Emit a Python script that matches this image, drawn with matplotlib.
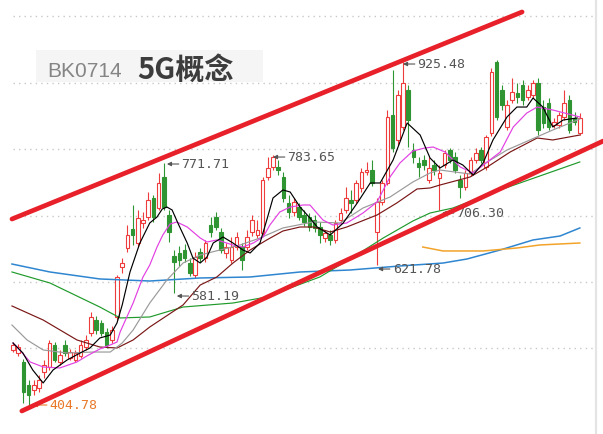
import matplotlib
matplotlib.use("Agg")
import matplotlib.pyplot as plt
from matplotlib.patches import Rectangle

# daily candles (index 0..109)
opens = [488.3, 483.7, 470.1, 435.1, 427.6, 430.6, 454.9, 462.5, 495.9, 470.1,
         495.9, 476.1, 473.1, 479.2, 492.8, 514.1, 533.8, 529.3, 515.6, 503.5,
         538.4, 614.3, 643.1, 672.0, 650.7, 681.1, 690.2, 719.0, 703.8, 750.9,
         693.2, 631.0, 635.5, 640.1, 620.3, 602.1, 637.0, 627.9, 678.0, 690.2,
         667.4, 635.5, 624.9, 644.6, 644.6, 644.6, 667.4, 662.8, 665.9, 750.9,
         766.1, 766.1, 750.9, 711.4, 697.8, 705.3, 693.2, 690.2, 685.6, 675.0,
         658.3, 662.8, 655.3, 685.6, 700.8, 716.0, 716.0, 734.2, 758.5, 761.5,
         667.4, 712.9, 741.8, 845.0, 807.1, 826.8, 883.0, 791.9, 772.1, 776.7,
         746.3, 769.1, 749.4, 769.1, 791.9, 781.2, 746.3, 735.7, 757.0, 776.7,
         791.9, 766.1, 817.7, 925.5, 883.0, 826.8, 867.8, 878.4, 890.5, 872.3,
         875.4, 893.6, 857.1, 863.2, 829.8, 829.8, 842.0, 867.8, 840.5, 817.7]
highs = [500.4, 497.4, 474.6, 442.7, 442.7, 450.3, 473.1, 503.5, 500.4, 488.3,
         503.5, 489.8, 488.3, 503.5, 511.0, 546.0, 539.9, 533.8, 521.7, 524.7,
         602.1, 627.9, 678.0, 708.4, 700.8, 697.8, 728.1, 723.6, 757.0, 771.7,
         700.8, 640.1, 646.1, 649.2, 627.9, 637.0, 643.1, 655.3, 690.2, 697.8,
         673.5, 650.7, 659.8, 667.4, 650.7, 670.4, 693.2, 685.6, 750.9, 781.2,
         783.7, 776.7, 758.5, 723.6, 719.0, 711.4, 700.8, 696.2, 693.2, 682.6,
         670.4, 670.4, 685.6, 703.8, 735.7, 731.2, 746.3, 764.5, 773.7, 776.7,
         719.0, 746.3, 852.6, 913.3, 883.0, 925.5, 890.5, 802.5, 781.2, 784.3,
         781.2, 776.7, 769.1, 791.9, 794.9, 788.8, 753.9, 761.5, 781.2, 794.9,
         796.4, 814.6, 916.3, 928.0, 890.5, 867.8, 901.2, 893.6, 898.1, 890.5,
         898.1, 901.2, 867.8, 870.8, 840.5, 849.6, 883.0, 875.4, 849.6, 848.0]
lows = [485.2, 479.2, 407.8, 404.8, 420.0, 424.5, 445.8, 457.9, 470.1, 465.5,
        479.2, 473.1, 470.1, 476.1, 488.3, 509.5, 512.6, 509.5, 491.3, 498.9,
        533.8, 605.2, 637.0, 647.7, 646.1, 673.5, 685.6, 682.6, 700.8, 700.8,
        652.2, 574.8, 615.8, 621.9, 600.6, 597.6, 621.9, 621.9, 659.8, 670.4,
        635.5, 627.9, 620.3, 640.1, 609.7, 640.1, 661.3, 658.3, 661.3, 746.3,
        761.5, 753.9, 712.9, 688.7, 691.7, 685.6, 676.5, 668.9, 667.4, 650.7,
        652.2, 647.7, 650.7, 681.1, 696.2, 696.2, 711.4, 728.1, 753.9, 737.2,
        617.3, 708.4, 738.7, 788.8, 799.5, 822.2, 796.4, 772.1, 750.9, 761.5,
        741.8, 753.9, 700.8, 764.5, 772.1, 757.0, 719.0, 731.2, 752.4, 772.1,
        772.1, 761.5, 813.1, 837.4, 852.6, 822.2, 863.2, 863.2, 860.2, 867.8,
        870.8, 814.6, 825.3, 822.2, 825.3, 825.3, 837.4, 817.7, 829.8, 814.6]
closes = [495.9, 492.8, 424.5, 420.0, 435.1, 442.7, 465.5, 498.9, 473.1, 480.7,
          483.7, 485.2, 483.7, 495.9, 503.5, 538.4, 518.6, 514.1, 495.9, 518.6,
          599.1, 620.3, 662.8, 662.8, 688.7, 685.6, 716.0, 690.2, 741.8, 705.3,
          667.4, 621.9, 624.9, 627.9, 605.2, 629.4, 627.9, 650.7, 667.4, 675.0,
          640.1, 644.6, 644.6, 659.8, 624.9, 659.8, 685.6, 670.4, 746.3, 764.5,
          781.2, 761.5, 719.0, 697.8, 712.9, 690.2, 682.6, 675.0, 673.5, 662.8,
          665.9, 655.3, 681.1, 696.2, 719.0, 711.4, 741.8, 758.5, 761.5, 741.8,
          712.9, 741.8, 842.0, 794.9, 875.4, 893.6, 837.4, 781.2, 766.1, 769.1,
          764.5, 761.5, 757.0, 787.3, 776.7, 761.5, 735.7, 757.0, 776.7, 787.3,
          776.7, 811.6, 910.3, 842.0, 860.2, 860.2, 879.9, 872.3, 867.8, 883.0,
          893.6, 822.2, 832.9, 826.8, 834.4, 845.0, 863.2, 822.2, 834.4, 840.5]

# moving averages: (candle index, value)
ma5_x = [0, 1.9, 3.8, 5.8, 7.7, 10.4, 12.9, 14.8, 16.7, 18.7, 20, 21, 22.5, 24.4,
         26.3, 27.7, 28.7, 29.6, 30.6, 31.7, 33.5, 34.6, 36, 37.3, 38.5, 40.4,
         42.3, 44.2, 45.6, 47.5, 48.8, 50, 51.9, 53.3, 55.2, 57.1, 58.5, 61,
         63.5, 66.2, 68.7, 70.6, 73.1, 75.8, 78.3, 80.2, 82.1, 84.6, 86.5, 88.5,
         90.4, 92.3, 95, 96.9, 98.8, 100, 101.9, 103.8, 105.8, 108.5]
ma5_y = [498.9, 483.7, 457.9, 438.2, 457.9, 473.1, 483.7, 491.3, 506.5, 511.0,
         529.3, 556.6, 606.7, 650.7, 681.1, 690.2, 702.3, 705.3, 700.8, 681.1,
         650.7, 627.9, 620.3, 629.4, 650.7, 659.8, 650.7, 640.1, 635.5, 650.7,
         685.6, 719.0, 731.2, 728.1, 705.3, 688.7, 675.0, 662.8, 681.1, 711.4,
         741.8, 741.8, 776.7, 832.9, 814.6, 779.7, 764.5, 776.7, 769.1, 753.9,
         772.1, 807.1, 842.0, 857.1, 857.1, 870.8, 857.1, 826.8, 837.4, 840.5]
ma10_x = [0, 0.8, 3.3, 5.8, 9, 12.3, 14.2, 16.7, 18.7, 20, 20.6, 23.1, 25, 26.3,
          27.7, 28.8, 30.2, 31.5, 33.5, 36, 37.3, 39.2, 42.3, 44.2, 46.2, 48.1,
          49.4, 51.3, 53.3, 55.8, 57.1, 59.6, 61.5, 64.2, 67.3, 70, 72.5, 74.4,
          76.9, 79.2, 80.8, 83.1, 86, 88.5, 91.2, 93.7, 96.2, 98.8, 100.8, 103.8, 109]
ma10_y = [498.9, 492.8, 470.1, 462.5, 461.0, 470.1, 479.2, 489.8, 495.9, 500.4,
          515.6, 559.6, 599.1, 617.3, 644.6, 662.8, 679.5, 682.6, 675.0, 658.3,
          652.2, 655.3, 647.7, 644.6, 650.7, 659.8, 678.0, 697.8, 705.3, 708.4,
          708.4, 685.6, 678.0, 681.1, 696.2, 712.9, 750.9, 772.1, 790.4, 794.9,
          796.4, 788.8, 766.1, 757.0, 773.7, 788.8, 826.8, 848.0, 857.1, 852.6, 842.0]
ma20_x = [-0.2, 2.7, 5.8, 10.4, 15.4, 18.7, 21, 23.1, 26.3, 29.6, 32.7, 36, 39.8,
          43.7, 47.5, 51.9, 57.7, 62.9, 67.3, 72.5, 76.9, 80.2, 82.1, 87.9, 91.2,
          95, 99.4, 103.8, 109]
ma20_y = [526.2, 503.5, 488.3, 483.7, 485.2, 485.2, 498.9, 518.6, 559.6, 594.5,
          620.3, 632.5, 640.1, 647.7, 658.3, 673.5, 682.6, 681.1, 703.8, 720.5,
          743.3, 757.0, 761.5, 755.4, 773.7, 791.9, 807.1, 822.2, 838.9]
ma30_x = [-0.2, 5.8, 12.3, 16.7, 20, 23.1, 26.3, 32.7, 36, 39.2, 42.3, 45.6, 48.8,
          51.9, 55.2, 57.7, 61, 64.2, 70, 73.8, 77.7, 80.2, 82.1, 87.9, 91.2,
          95.6, 100.8, 103.8, 109]
ma30_y = [555.1, 533.8, 503.5, 492.8, 491.3, 503.5, 523.2, 556.6, 586.9, 599.1,
          620.3, 640.1, 655.3, 668.9, 675.0, 675.0, 667.4, 675.0, 693.2, 711.4,
          732.7, 734.2, 738.7, 750.9, 766.1, 788.8, 810.1, 807.1, 814.6]
ma60_x = [-0.2, 7.1, 16.7, 20.6, 26.3, 32.7, 42.3, 48.8, 53.3, 59, 64.8, 71.2,
          76.9, 80.2, 84.6, 94.2, 109]
ma60_y = [606.7, 590.0, 553.5, 536.9, 538.4, 553.5, 559.6, 568.7, 582.4, 599.1,
          626.4, 658.3, 684.1, 696.2, 703.8, 732.7, 773.7]
ma120_x = [-0.2, 7.1, 16.7, 26.3, 36, 45.6, 55.2, 64.8, 74.4, 82.7, 87.3, 93.7,
           100, 105.2, 109]
ma120_y = [618.8, 606.7, 596.1, 593.0, 597.6, 599.1, 606.7, 609.7, 615.8, 620.3,
           626.4, 640.1, 655.3, 661.3, 673.5]
ma250_x = [78.8, 82.7, 90.4, 96.9, 101.3, 109]
ma250_y = [644.6, 638.6, 638.6, 643.1, 647.7, 650.7]

# trend channel (index, price at both ends)
upper_x = [-0.2, 97.9]
upper_y = [687.1, 1001.4]
lower_x = [1.7, 113.5]
lower_y = [395.7, 805.5]

# marked highs / lows: label, arrow tip index, price
marks = [("771.71", 29.6, 770.6), ("783.65", 50.0, 781.2), ("925.48", 75.0, 922.4),
         ("621.78", 70.2, 611.2), ("581.19", 31.5, 570.2), ("706.30", 82.5, 696.2)]
low_mark = ("404.78", 3.85, 404.78)

grid_levels = [995.3, 893.6, 793.4, 691.7, 591.5, 491.3]

RED = "#ee3b3b"
GREEN = "#2f9432"

fig = plt.figure(figsize=(6.03, 4.34), dpi=100)
ax = fig.add_axes([0, 0, 1, 1])
ax.set_xlim(-2.5, 113.46)
ax.set_ylim(360.76, 1019.57)
ax.axis("off")

ax.hlines(grid_levels, 0, 112.1, colors="#c8c8c8", linestyles=(0, (1, 3)), lw=1, zorder=0)
ax.axvline(112.1, color="#e4e4e4", lw=1.6, zorder=0)

for i in range(len(opens)):
    o, h, l, c = opens[i], highs[i], lows[i], closes[i]
    up = c >= o
    col = RED if up else GREEN
    top, bot = max(o, c), min(o, c)
    ax.vlines(i, top, h, color=col, lw=0.8, zorder=2)
    ax.vlines(i, l, bot, color=col, lw=0.8, zorder=2)
    ax.add_patch(Rectangle((i - 0.35, bot), 0.7, max(top - bot, 0.8),
                           facecolor="white" if up else col, edgecolor=col,
                           lw=0.8, zorder=3))

ax.plot(ma120_x, ma120_y, color="#2f86d0", lw=1.1, zorder=4)
ax.plot(ma250_x, ma250_y, color="#f2a32a", lw=1.1, zorder=4)
ax.plot(ma60_x, ma60_y, color="#1f9a2a", lw=0.85, zorder=4)
ax.plot(ma30_x, ma30_y, color="#7a1616", lw=0.85, zorder=4)
ax.plot(ma20_x, ma20_y, color="#9a9a9a", lw=0.85, zorder=4)
ax.plot(ma10_x, ma10_y, color="#e23fe2", lw=0.85, zorder=4)
ax.plot(ma5_x, ma5_y, color="black", lw=0.85, zorder=5)

for txt, xi, yv in marks:
    ax.annotate(txt, xy=(xi, yv), xytext=(10.5, 0), textcoords="offset points",
                va="center", ha="left", fontsize=9.5, color="#555555",
                family="DejaVu Sans Mono", zorder=6,
                arrowprops=dict(arrowstyle="-|>", color="#555555", lw=0.8,
                                mutation_scale=6, shrinkA=0, shrinkB=0))
txt, xi, yv = low_mark
ax.annotate(txt, xy=(xi, yv), xytext=(12, 0), textcoords="offset points",
            va="center", ha="left", fontsize=9.5, color="#e8792a",
            family="DejaVu Sans Mono", zorder=6,
            arrowprops=dict(arrowstyle="-|>", color="#e8792a", lw=0.8,
                            mutation_scale=6, shrinkA=0, shrinkB=0))

ax.plot(upper_x, upper_y, color="#e8202a", lw=3.4, solid_capstyle="round", zorder=7)
ax.plot(lower_x, lower_y, color="#e8202a", lw=3.4, solid_capstyle="round", zorder=7)

# title box
fig.add_artist(Rectangle((36 / 603, 1 - 82 / 434), 227 / 603, 32 / 434,
                         transform=fig.transFigure, facecolor="#f5f5f5",
                         edgecolor="none", zorder=1))
fig.text(47 / 603, 1 - 77 / 434, "BK0714", fontsize=15, color="#858585",
         family="Liberation Sans", va="baseline", zorder=8)
fig.text(137 / 603, 1 - 79 / 434, "5G概念", fontsize=21, fontweight="bold",
         color="#3c3c3c", family=["Noto Sans CJK SC", "DejaVu Sans"],
         va="baseline", zorder=8)

fig.savefig("out.png", dpi=100)
